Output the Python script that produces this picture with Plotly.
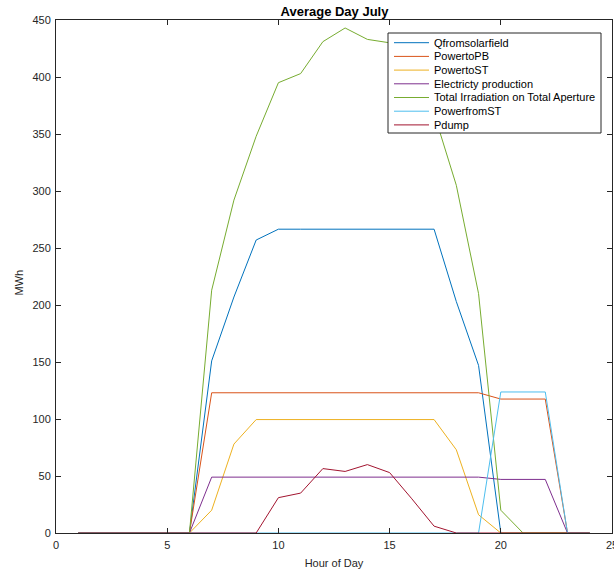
import plotly.graph_objects as go

# Hour of day (1..24) and hourly averages in MWh
hours = list(range(1, 25))

q_from_solarfield = [0, 0, 0, 0, 0, 0, 151, 207, 257, 266.5, 266.5, 266.5, 266.5, 266.5, 266.5, 266.5, 266.5,
                     203, 147, 0, 0, 0, 0, 0]
power_to_pb = [0, 0, 0, 0, 0, 0, 123, 123, 123, 123, 123, 123, 123, 123, 123, 123, 123,
               123, 123, 117.5, 117.5, 117.5, 0, 0]
power_to_st = [0, 0, 0, 0, 0, 0, 20, 78, 99.5, 99.5, 99.5, 99.5, 99.5, 99.5, 99.5, 99.5, 99.5,
               73, 16, 0, 0, 0, 0, 0]
electricity = [0, 0, 0, 0, 0, 0, 49, 49, 49, 49, 49, 49, 49, 49, 49, 49, 49,
               49, 49, 47, 47, 47, 0, 0]
irradiation = [0, 0, 0, 0, 0, 0, 213, 292, 348, 395, 403, 431, 443, 433, 430, 408, 368,
               305, 210, 20, 0, 0, 0, 0]
power_from_st = [0, 0, 0, 0, 0, 0, 0, 0, 0, 0, 0, 0, 0, 0, 0, 0, 0,
                 0, 0, 123.7, 123.7, 123.7, 0, 0]
p_dump = [0, 0, 0, 0, 0, 0, 0, 0, 0, 31, 35, 56.5, 54, 60, 53, 30, 6,
          0, 0, 0, 0, 0, 0, 0]

names = ["Qfromsolarfield", "PowertoPB", "PowertoST", "Electricty production",
         "Total Irradiation on Total Aperture", "PowerfromST", "Pdump"]
series = [q_from_solarfield, power_to_pb, power_to_st, electricity,
          irradiation, power_from_st, p_dump]
colors = ["#0072BD", "#D95319", "#EDB120", "#7E2F8E", "#77AC30", "#4DBEEE", "#A2142F"]

x_ticks = [0, 5, 10, 15, 20, 25]
y_ticks = [0, 50, 100, 150, 200, 250, 300, 350, 400, 450]

W, H = 614, 573
ML, MR, MT, MB = 56, 2, 20, 40
PW, PH = W - ML - MR, H - MT - MB
AX = "#262626"
FONT = "Liberation Sans, Arial, Helvetica, sans-serif"


def px_x(px):
    return (px - ML) / PW


def px_y(py):
    return (H - MB - py) / PH


fig = go.Figure()
for name, ys, col in zip(names, series, colors):
    fig.add_trace(go.Scatter(x=hours, y=ys, mode="lines", name=name,
                             line=dict(color=col, width=1), showlegend=False))

# Boxed legend in the upper right of the axes
shapes = [dict(type="rect", xref="paper", yref="paper",
               x0=px_x(388), x1=px_x(601), y0=px_y(133), y1=px_y(33),
               fillcolor="white", line=dict(color=AX, width=1), layer="above")]
annotations = []
for i, (name, col) in enumerate(zip(names, colors)):
    yc = 42.7 + i * 13.7
    shapes.append(dict(type="line", xref="paper", yref="paper",
                       x0=px_x(394), x1=px_x(429), y0=px_y(yc), y1=px_y(yc),
                       line=dict(color=col, width=1), layer="above"))
    annotations.append(dict(xref="paper", yref="paper", x=px_x(432), y=px_y(yc),
                            text=name, showarrow=False, xanchor="left", yanchor="middle",
                            font=dict(family=FONT, size=11, color="black")))

# Y-axis label, placed to the left of the tick labels
annotations.append(dict(xref="paper", yref="paper", x=px_x(18.5), y=px_y(283),
                        text="MWh", textangle=-90, showarrow=False,
                        xanchor="center", yanchor="middle",
                        font=dict(family=FONT, size=11, color=AX)))

axis_common = dict(showline=True, linecolor=AX, linewidth=1, mirror="ticks",
                   ticks="inside", ticklen=5, tickcolor=AX, showgrid=False, zeroline=False,
                   ticklabeloverflow="allow", automargin=False,
                   tickfont=dict(family=FONT, size=11, color=AX))

fig.update_layout(
    width=W, height=H,
    margin=dict(l=ML, r=MR, t=MT, b=MB, autoexpand=False),
    paper_bgcolor="white", plot_bgcolor="white",
    title=dict(text="<b>Average Day July</b>", x=334.5 / W, xanchor="center",
               y=1 - 11 / H, yanchor="middle",
               font=dict(family=FONT, size=13, color="black")),
    xaxis=dict(range=[0, 25], tickvals=x_ticks, ticklabelstandoff=2,
               title=dict(text="Hour of Day", font=dict(family=FONT, size=11, color=AX), standoff=9),
               **axis_common),
    yaxis=dict(range=[0, 450], tickvals=y_ticks, ticklabelstandoff=2,
               **axis_common),
    shapes=shapes,
    annotations=annotations,
)

fig.write_html("out.html")
